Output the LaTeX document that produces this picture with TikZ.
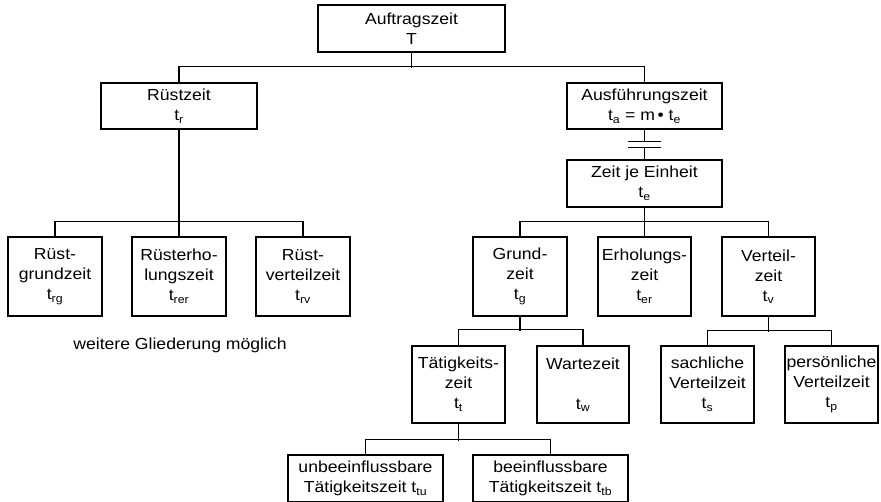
\documentclass[tikz,border=0pt]{standalone}
\usepackage{fontspec}
\setmainfont[FakeStretch=1.1]{Liberation Sans}
\begin{document}
\begin{tikzpicture}[x=1pt,y=-1pt,
  box/.style={draw, line width=1.2pt, rectangle, inner sep=0pt, align=center,
    font=\fontsize{16}{20}\selectfont, text=black},
  conn/.style={line width=1.2pt},
  lbl/.style={inner sep=0pt, font=\fontsize{16}{20}\selectfont}]
\useasboundingbox (0,0) rectangle (881,501);
\clip (0,0) rectangle (881,501);

\node[box, minimum width=187pt, minimum height=47pt] (auf) at (411.5,28.5) {Auftragszeit\\T};
\node[box, minimum width=156pt, minimum height=46pt] (ruest) at (179,106) {Rüstzeit\\t\textsubscript{r}};
\node[box, minimum width=155pt, minimum height=46pt] (ausf) at (644.5,106) {Ausführungszeit\\t\textsubscript{a} = m\,\textbullet\ t\textsubscript{e}};
\node[box, minimum width=155pt, minimum height=47pt] (zje) at (644.5,183.5) {Zeit je Einheit\\t\textsubscript{e}};

\node[box, minimum width=94pt, minimum height=79pt] (rg) at (55,276.5) {Rüst-\\grundzeit\\t\textsubscript{rg}};
\node[box, minimum width=94pt, minimum height=79pt] (rer) at (179,276.5) {Rüsterho-\\lungszeit\\t\textsubscript{rer}};
\node[box, minimum width=94pt, minimum height=79pt] (rv) at (303,276.5) {Rüst-\\verteilzeit\\t\textsubscript{rv}};

\node[box, minimum width=94pt, minimum height=79pt] (grund) at (520,276.5) {Grund-\\zeit\\t\textsubscript{g}};
\node[box, minimum width=93pt, minimum height=79pt] (erh) at (644.5,276.5) {Erholungs-\\zeit\\t\textsubscript{er}};
\node[box, minimum width=93pt, minimum height=79pt] (vert) at (768.5,276.5) {Verteil-\\zeit\\t\textsubscript{v}};

\node[box, minimum width=93pt, minimum height=77pt] (taet) at (458.5,384.5) {Tätigkeits-\\zeit\\t\textsubscript{t}};
\node[box, minimum width=92pt, minimum height=77pt] (warte) at (583,384.5) {Wartezeit\\~\\t\textsubscript{w}};
\node[box, minimum width=93pt, minimum height=77pt] (sach) at (707.5,384.5) {sachliche\\Verteilzeit\\t\textsubscript{s}};
\node[box, minimum width=93pt, minimum height=77pt] (pers) at (831.5,384.5) {persönliche\\Verteilzeit\\t\textsubscript{p}};

\node[box, minimum width=155pt, minimum height=47pt] (unb) at (365.5,478.5) {unbeeinflussbare\\Tätigkeitszeit t\textsubscript{tu}};
\node[box, minimum width=155pt, minimum height=47pt] (bee) at (550.5,478.5) {beeinflussbare\\Tätigkeitszeit t\textsubscript{tb}};

\node[lbl] (wg) at (180,345) {weitere Gliederung möglich};

% top level
\draw[conn] (auf.south) -- ++(0,15);
\draw[conn] (ruest.north) -- ++(0,-16) -| (ausf.north);
% Ruestzeit
\draw[conn] (ruest.south) -- (rer.north);
\draw[conn] (rg.north) -- ++(0,-15) -| (rv.north);
% Ausfuehrungszeit -> Zeit je Einheit
\draw[conn] (ausf.south) -- ++(0,12) coordinate (g1);
\draw[conn] (zje.north) -- ++(0,-12) coordinate (g2);
\draw[conn] ([xshift=-16.5pt]g1) -- ([xshift=16.5pt]g1);
\draw[conn] ([xshift=-16.5pt]g2) -- ([xshift=16.5pt]g2);
% Zeit je Einheit
\draw[conn] (zje.south) -- (erh.north);
\draw[conn] (grund.north) -- ++(0,-15) -| (vert.north);
% Grundzeit
\draw[conn] (grund.south) -- ++(0,14);
\draw[conn] (taet.north) -- ++(0,-16) -| (warte.north);
% Verteilzeit
\draw[conn] (vert.south) -- ++(0,15);
\draw[conn] (sach.north) -- ++(0,-15) -| (pers.north);
% Taetigkeitszeit
\draw[conn] (taet.south) -- ++(0,17);
\draw[conn] (unb.north) -- ++(0,-15) -| (bee.north);
\end{tikzpicture}
\end{document}
